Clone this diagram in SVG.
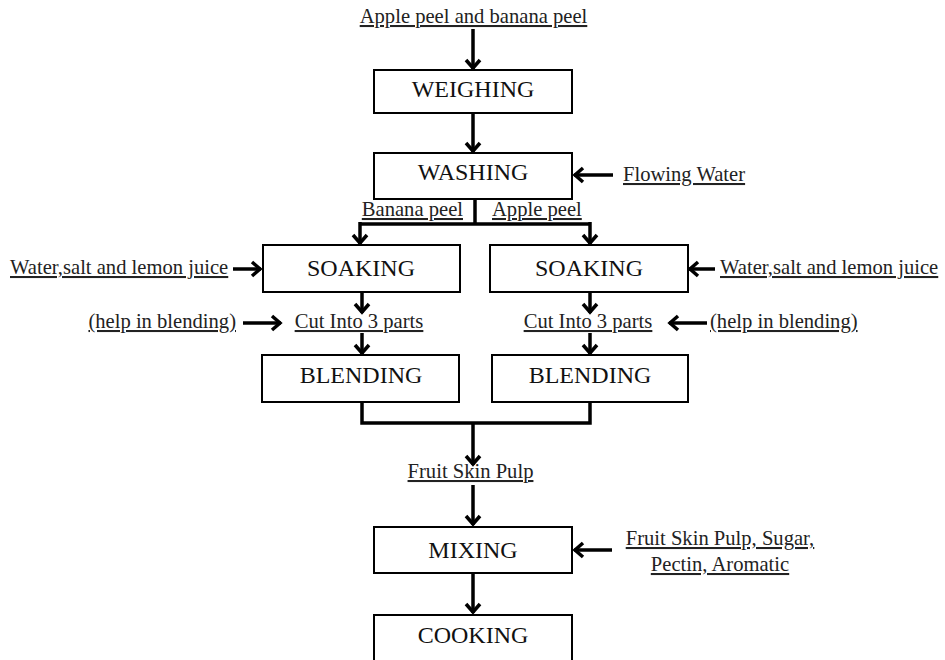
<svg xmlns="http://www.w3.org/2000/svg" width="945" height="660" viewBox="0 0 945 660">
<defs>
<marker id="ah" markerUnits="userSpaceOnUse" markerWidth="20" markerHeight="20" viewBox="-12 -10 14 20" refX="0" refY="0" orient="auto">
<path d="M-9,-7 L-1,0 L-9,7" fill="none" stroke="#000" stroke-width="3.5" stroke-linecap="butt" stroke-linejoin="miter"/>
</marker>
<style>
.box{fill:#fff;stroke:#000;stroke-width:2}
.bt{font-family:"Liberation Serif","Times New Roman",serif;font-size:24px;fill:#111;text-anchor:middle}
.lb{font-family:"Liberation Serif","Times New Roman",serif;font-size:20.6px;fill:#222;text-decoration:underline}
.ar{stroke:#000;stroke-width:3.5;fill:none;marker-end:url(#ah)}
.ln{stroke:#000;stroke-width:3.5;fill:none}
</style>
</defs>
<rect width="945" height="660" fill="#fff"/>
<g id="connectors">
<line class="ar" x1="473" y1="29" x2="473" y2="69"/>
<line class="ar" x1="473" y1="113" x2="473" y2="152"/>
<line class="ar" x1="613" y1="175" x2="574" y2="175"/>
<polyline class="ln" points="475,199 475,224"/>
<polyline class="ln" points="360,224 590,224"/>
<line class="ar" x1="360" y1="222" x2="360" y2="244"/>
<line class="ar" x1="590" y1="222" x2="590" y2="244"/>
<line class="ar" x1="233" y1="269" x2="261" y2="269"/>
<line class="ar" x1="715" y1="269" x2="689" y2="269"/>
<line class="ar" x1="362" y1="292" x2="362" y2="313"/>
<line class="ar" x1="590" y1="292" x2="590" y2="313"/>
<line class="ar" x1="243" y1="323" x2="281" y2="323"/>
<line class="ar" x1="707" y1="323" x2="669" y2="323"/>
<line class="ar" x1="362" y1="333" x2="362" y2="354"/>
<line class="ar" x1="590" y1="333" x2="590" y2="354"/>
<polyline class="ln" points="362,402 362,423 590,423 590,402"/>
<line class="ar" x1="473" y1="423" x2="473" y2="465"/>
<line class="ar" x1="473" y1="485" x2="473" y2="525"/>
<line class="ar" x1="612" y1="550" x2="574" y2="550"/>
<line class="ar" x1="473" y1="573" x2="473" y2="613"/>
</g>
<g id="input-top"><text class="lb" x="473.5" y="23" text-anchor="middle">Apple peel and banana peel</text></g>
<g id="weighing"><rect class="box" x="374" y="70" width="198" height="43"/><text class="bt" x="473" y="97">WEIGHING</text></g>
<g id="washing"><rect class="box" x="374" y="153" width="198" height="46"/><text class="bt" x="473" y="180">WASHING</text></g>
<g id="flowing-water"><text class="lb" x="623" y="181">Flowing Water</text></g>
<g id="banana-label"><text class="lb" x="463" y="216" text-anchor="end">Banana peel</text></g>
<g id="apple-label"><text class="lb" x="492" y="216">Apple peel</text></g>
<g id="soaking-left"><rect class="box" x="263" y="245" width="197" height="47"/><text class="bt" x="361" y="276">SOAKING</text></g>
<g id="soaking-right"><rect class="box" x="490" y="245" width="198" height="47"/><text class="bt" x="589" y="276">SOAKING</text></g>
<g id="water-left"><text class="lb" x="10" y="274">Water,salt and lemon juice</text></g>
<g id="water-right"><text class="lb" x="720" y="274">Water,salt and lemon juice</text></g>
<g id="cut-left"><text class="lb" x="359" y="328" text-anchor="middle">Cut Into 3 parts</text></g>
<g id="cut-right"><text class="lb" x="588" y="328" text-anchor="middle">Cut Into 3 parts</text></g>
<g id="help-left"><text class="lb" x="236" y="328" text-anchor="end">(help in blending)</text></g>
<g id="help-right"><text class="lb" x="710" y="328">(help in blending)</text></g>
<g id="blending-left"><rect class="box" x="262" y="355" width="197" height="47"/><text class="bt" x="361" y="383">BLENDING</text></g>
<g id="blending-right"><rect class="box" x="492" y="355" width="196" height="47"/><text class="bt" x="590" y="383">BLENDING</text></g>
<g id="fruit-skin-pulp"><text class="lb" x="470.5" y="478" text-anchor="middle">Fruit Skin Pulp</text></g>
<g id="mixing"><rect class="box" x="374" y="527" width="198" height="46"/><text class="bt" x="473" y="558">MIXING</text></g>
<g id="mixing-input"><text class="lb" x="720" y="545" text-anchor="middle">Fruit Skin Pulp, Sugar,</text><text class="lb" x="720" y="571" text-anchor="middle">Pectin, Aromatic</text></g>
<g id="cooking"><rect class="box" x="374" y="615" width="198" height="60"/><text class="bt" x="473" y="643">COOKING</text></g>
</svg>
